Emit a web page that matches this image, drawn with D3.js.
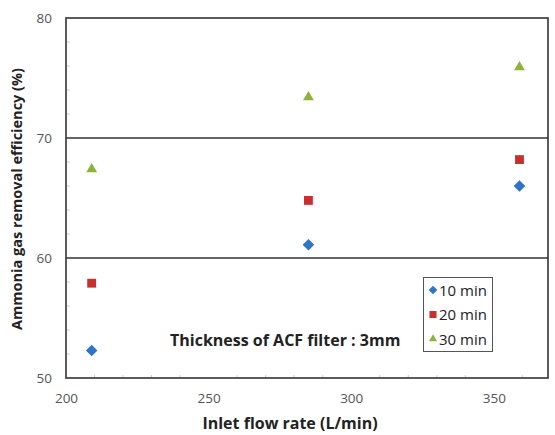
<!DOCTYPE html>
<html>
<head>
<meta charset="utf-8">
<script src="https://cdn.jsdelivr.net/npm/d3@7"></script>
<style>
  body { margin: 0; background: #fff; }
  text { font-family: "Open Sans", "Noto Sans", sans-serif; }
</style>
</head>
<body>
<div id="chart"></div>
<script>
var width = 555, height = 435;
var margin = {top: 18, right: 7, bottom: 57, left: 66};

var flowRates = [209, 285, 359];
var series = ["10 min", "20 min", "30 min"];
var eff10 = [52.3, 61.1, 66.0];
var eff20 = [57.9, 64.8, 68.2];
var eff30 = [67.4, 73.4, 75.9];
var xTicks = [200, 250, 300, 350];
var yTicks = [50, 60, 70, 80];

var colors = ["#2f74c8", "#c8302f", "#8db33a"];
var symbols = [d3.symbolDiamond2, d3.symbolSquare2, d3.symbolTriangle2];
var values = [eff10, eff20, eff30];

var svg = d3.select("#chart").append("svg").attr("width", width).attr("height", height);

var x = d3.scaleLinear().domain([200, 369]).range([margin.left, width - margin.right]);
var y = d3.scaleLinear().domain([50, 80]).range([height - margin.bottom, margin.top]);

// minor ticks (inside)
svg.append("g").selectAll("line")
    .data(d3.range(52, 80, 2).filter(function(d){ return d % 10 != 0; }))
    .enter().append("line")
    .attr("x1", x(200)).attr("x2", x(200) + 4)
    .attr("y1", function(d){ return y(d); }).attr("y2", function(d){ return y(d); })
    .attr("stroke", "#ccc");

svg.append("g").selectAll("line")
    .data(d3.range(210, 369, 10).filter(function(d){ return d % 50 != 0; }))
    .enter().append("line")
    .attr("x1", function(d){ return x(d); }).attr("x2", function(d){ return x(d); })
    .attr("y1", y(50)).attr("y2", y(50) - 3)
    .attr("stroke", "#ccc");

// gridlines
svg.append("g").selectAll("line")
    .data([60, 70])
    .enter().append("line")
    .attr("x1", x(200)).attr("x2", x(369))
    .attr("y1", function(d){ return y(d); }).attr("y2", function(d){ return y(d); })
    .attr("stroke", "#333").attr("stroke-width", 1.6);

// frame
svg.append("rect")
    .attr("x", x(200)).attr("y", y(80))
    .attr("width", x(369) - x(200)).attr("height", y(50) - y(80))
    .attr("fill", "none").attr("stroke", "#333").attr("stroke-width", 1.6);

// axes labels
var xAxis = d3.axisBottom(x).tickValues(xTicks).tickSize(0).tickPadding(15);
svg.append("g").attr("transform", "translate(0," + y(50) + ")").call(xAxis)
    .call(function(g){ g.select(".domain").remove(); })
    .selectAll("text").attr("font-size", 13.5).attr("fill", "#555").style("font-family", "Open Sans");

var yAxis = d3.axisLeft(y).tickValues(yTicks).tickSize(0).tickPadding(14);
svg.append("g").attr("transform", "translate(" + x(200) + ",0)").call(yAxis)
    .call(function(g){ g.select(".domain").remove(); })
    .selectAll("text").attr("font-size", 13.5).attr("fill", "#555").style("font-family", "Open Sans");

svg.append("text")
    .attr("x", 290).attr("y", 429)
    .attr("text-anchor", "middle").attr("font-size", 16).attr("font-weight", "bold").attr("fill", "#222")
    .text("Inlet flow rate (L/min)");

svg.append("text")
    .attr("transform", "translate(22,199) rotate(-90)")
    .attr("text-anchor", "middle").attr("font-size", 14.5).attr("font-weight", "bold").attr("fill", "#222")
    .text("Ammonia gas removal efficiency (%)");

svg.append("text")
    .attr("x", 170).attr("y", 346)
    .attr("font-size", 16).attr("font-weight", "bold").attr("fill", "#222")
    .text("Thickness of ACF filter : 3mm");

// points
values.forEach(function(vals, i){
    svg.append("g").selectAll("path")
        .data(vals)
        .enter().append("path")
        .attr("d", d3.symbol().type(symbols[i]).size(i == 1 ? 100 : 85))
        .attr("transform", function(d, j){ return "translate(" + x(flowRates[j]) + "," + y(d) + ")"; })
        .attr("fill", colors[i]);
});

// legend
var legend = svg.append("g");
legend.append("rect")
    .attr("x", 423.5).attr("y", 277.5).attr("width", 69).attr("height", 74)
    .attr("fill", "#fff").attr("stroke", "#555").attr("stroke-width", 1);

series.forEach(function(s, i){
    var ly = 290 + i * 24.5;
    legend.append("path")
        .attr("d", d3.symbol().type(symbols[i]).size(i == 1 ? 64 : 48))
        .attr("transform", "translate(433," + ly + ")")
        .attr("fill", colors[i]);
    legend.append("text")
        .attr("x", 439).attr("y", ly + 5.5)
        .attr("font-size", 15).attr("fill", "#222")
        .text(s);
});
</script>
</body>
</html>
